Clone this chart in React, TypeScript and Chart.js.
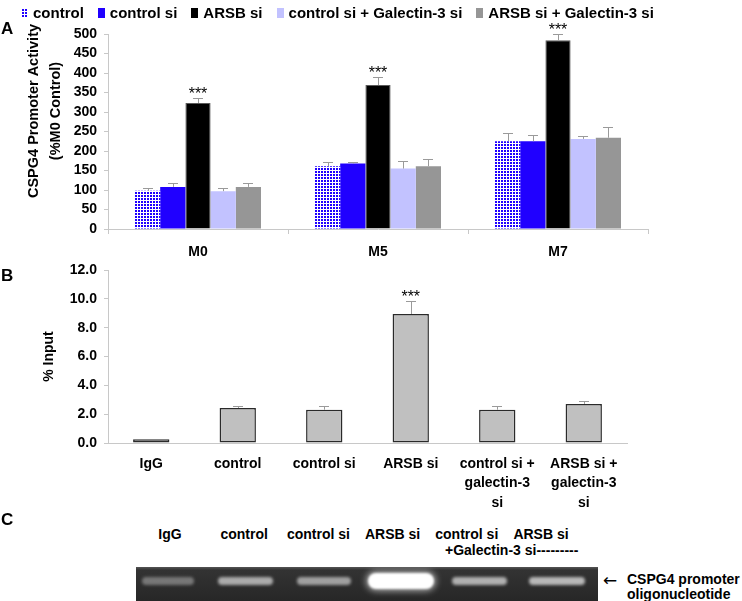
import React, { useEffect, useRef } from "react";
import { Chart, registerables } from "chart.js";

Chart.register(...registerables);

const FONT = '"Liberation Sans", Arial, Helvetica, sans-serif';

// ---------- Panel A data ----------
const timepoints = ["M0", "M5", "M7"];
const seriesNames = [
  "control",
  "control si",
  "ARSB si",
  "control si + Galectin-3 si",
  "ARSB si + Galectin-3 si",
];
const controlVals = [98, 161, 225];
const controlErr = [6, 10, 20];
const controlSiVals = [108, 168, 225];
const controlSiErr = [9, 5, 16];
const arsbSiVals = [323, 369, 484];
const arsbSiErr = [13, 20, 16];
const ctrlGalVals = [97, 155, 231];
const ctrlGalErr = [7, 19, 7];
const arsbGalVals = [108, 161, 234];
const arsbGalErr = [9, 18, 27];
const arsbSiSig = ["***", "***", "***"];
const yTitleA = ["CSPG4 Promoter Activity", "(%M0 Control)"];

// ---------- Panel B data ----------
const chipLabels = [
  ["IgG"],
  ["control"],
  ["control si"],
  ["ARSB si"],
  ["control si +", "galectin-3", "si"],
  ["ARSB si +", "galectin-3", "si"],
];
const chipVals = [0.26, 2.43, 2.31, 8.95, 2.31, 2.71];
const chipErr = [0, 0.17, 0.24, 0.88, 0.24, 0.18];
const chipSig = ["", "", "", "***", "", ""];
const yTitleB = "% Input";

// ---------- Panel C data ----------
const gelLabels = ["IgG", "control", "control si", "ARSB si", "control si", "ARSB si"];
const gelSubLabel = "+Galectin-3 si---------";
const gelIntensity = [0.38, 0.68, 0.62, 1.0, 0.7, 0.74];
const gelCaption = ["CSPG4 promoter", "oligonucleotide"];

// ---------- styles ----------
const BLUE = "#2000ff";
const seriesColors = [BLUE, BLUE, "#000000", "#c2c2ff", "#969696"];
const AXIS = "#c8c8c8";

function makePattern(color: string) {
  const c = document.createElement("canvas");
  c.width = 3;
  c.height = 3;
  const g = c.getContext("2d")!;
  g.fillStyle = "#ffffff";
  g.fillRect(0, 0, 3, 3);
  g.fillStyle = color;
  g.fillRect(0, 0, 2, 2);
  return g.createPattern(c, "repeat")!;
}

function errorPlugin(errs: number[][], sigs: string[][], capHalf: number) {
  return {
    id: "errbars",
    afterDatasetsDraw(chart: any) {
      const ctx = chart.ctx;
      const y = chart.scales.y;
      ctx.save();
      chart.data.datasets.forEach((ds: any, di: number) => {
        const meta = chart.getDatasetMeta(di);
        meta.data.forEach((bar: any, i: number) => {
          const v = ds.data[i] as number;
          const e = errs[di] ? errs[di][i] : 0;
          const yTop = y.getPixelForValue(v);
          const yCap = y.getPixelForValue(v + e);
          if (e > 0) {
            ctx.strokeStyle = "#9a9a9a";
            ctx.lineWidth = 1;
            ctx.beginPath();
            ctx.moveTo(Math.round(bar.x) + 0.5, yTop);
            ctx.lineTo(Math.round(bar.x) + 0.5, Math.round(yCap) + 0.5);
            ctx.moveTo(Math.round(bar.x - capHalf), Math.round(yCap) + 0.5);
            ctx.lineTo(Math.round(bar.x + capHalf), Math.round(yCap) + 0.5);
            ctx.stroke();
          }
          const s = sigs[di] ? sigs[di][i] : "";
          if (s) {
            ctx.fillStyle = "#000";
            ctx.font = `normal 16px ${FONT}`;
            ctx.textAlign = "center";
            ctx.textBaseline = "alphabetic";
            ctx.fillText(s, bar.x, yCap + 1);
          }
        });
      });
      ctx.restore();
    },
  };
}

const yTitlePluginA = {
  id: "ytitleA",
  afterDraw(chart: any) {
    const ctx = chart.ctx;
    ctx.save();
    ctx.font = `bold 14.5px ${FONT}`;
    ctx.fillStyle = "#000";
    ctx.textAlign = "center";
    ctx.textBaseline = "middle";
    yTitleA.forEach((line, k) => {
      ctx.save();
      ctx.translate(34 + k * 22, 111);
      ctx.rotate(-Math.PI / 2);
      ctx.fillText(line, 0, 0);
      ctx.restore();
    });
    ctx.restore();
  },
};

export default function App() {
  const refA = useRef<HTMLCanvasElement>(null);
  const refB = useRef<HTMLCanvasElement>(null);

  useEffect(() => {
    const pattern = makePattern(BLUE);
    const tickFont = { family: FONT, size: 14, weight: "bold" as const, lineHeight: 1 };

    const valsA = [controlVals, controlSiVals, arsbSiVals, ctrlGalVals, arsbGalVals];
    const errsA = [controlErr, controlSiErr, arsbSiErr, ctrlGalErr, arsbGalErr];
    const sigsA = [[], [], arsbSiSig, [], []];

    const chartA = new Chart(refA.current!, {
      type: "bar",
      data: {
        labels: timepoints,
        datasets: seriesNames.map((name, i) => ({
          label: name,
          data: valsA[i],
          backgroundColor: i === 0 ? (pattern as any) : seriesColors[i],
          borderColor: i === 2 ? "#5a5a5a" : seriesColors[i],
          borderWidth: i === 2 ? 1 : 0,
          borderSkipped: "bottom" as const,
          categoryPercentage: 0.7,
          barPercentage: 1,
        })),
      },
      options: {
        responsive: false,
        animation: false,
        devicePixelRatio: 1,
        layout: { padding: { top: 34, left: 1, right: 94, bottom: 0 } },
        plugins: { legend: { display: false }, tooltip: { enabled: false } },
        scales: {
          x: {
            grid: { display: true, drawOnChartArea: false, offset: true, tickLength: 5, color: AXIS },
            border: { display: true, color: AXIS },
            ticks: { font: { family: FONT, size: 14, weight: "bold" }, color: "#000", padding: 10 },
            afterFit: (s: any) => {
              s.height = 36;
            },
          },
          y: {
            min: 0,
            max: 500,
            grid: { display: true, drawOnChartArea: false, tickLength: 4, color: AXIS },
            border: { display: true, color: AXIS },
            ticks: {
              stepSize: 50,
              autoSkip: false,
              maxTicksLimit: 20,
              font: tickFont,
              color: "#000",
              padding: 7,
            },
            afterFit: (s: any) => {
              s.width = 107;
            },
          },
        },
      },
      plugins: [errorPlugin(errsA, sigsA, 5), yTitlePluginA],
    });

    const chartB = new Chart(refB.current!, {
      type: "bar",
      data: {
        labels: chipLabels,
        datasets: [
          {
            label: yTitleB,
            data: chipVals,
            backgroundColor: "#c0c0c0",
            borderColor: "#2a2a2a",
            borderWidth: 1.5,
            borderSkipped: false,
            categoryPercentage: 1,
            barPercentage: 0.42,
          },
        ],
      },
      options: {
        responsive: false,
        animation: false,
        devicePixelRatio: 1,
        layout: { padding: { top: 15, left: 1, right: 115, bottom: 0 } },
        plugins: { legend: { display: false }, tooltip: { enabled: false } },
        scales: {
          x: {
            grid: { display: false, drawTicks: false },
            border: { display: true, color: AXIS },
            ticks: {
              font: { family: FONT, size: 14, weight: "bold", lineHeight: 1.4 },
              color: "#000",
              padding: 11,
              maxRotation: 0,
              autoSkip: false,
            },
            afterFit: (s: any) => {
              s.height = 77;
            },
          },
          y: {
            min: 0,
            max: 12,
            grid: { display: true, drawOnChartArea: false, tickLength: 4, color: AXIS },
            border: { display: true, color: AXIS },
            ticks: {
              stepSize: 2,
              autoSkip: false,
              font: tickFont,
              color: "#000",
              padding: 7,
              callback: (v: any) => Number(v).toFixed(1),
            },
            title: {
              display: true,
              text: yTitleB,
              color: "#000",
              font: { family: FONT, size: 14, weight: "bold" },
              padding: { top: 40, bottom: 0 },
            },
            afterFit: (s: any) => {
              s.width = 107;
            },
          },
        },
      },
      plugins: [errorPlugin([chipErr], [chipSig], 5)],
    });

    return () => {
      chartA.destroy();
      chartB.destroy();
    };
  }, []);

  const swatchStyle = (i: number): React.CSSProperties =>
    i === 0
      ? {
          backgroundColor: BLUE,
          backgroundImage:
            "linear-gradient(to right, #fff 1px, transparent 1px), linear-gradient(to bottom, #fff 1px, transparent 1px)",
          backgroundSize: "3px 3px",
        }
      : { backgroundColor: seriesColors[i] };

  const letter: React.CSSProperties = {
    position: "absolute",
    left: 1,
    fontSize: 17,
    fontWeight: "bold",
    lineHeight: "20px",
    height: 20,
  };

  const gelLeft = 136;
  const gelTop = 567;

  return (
    <div
      style={{
        position: "fixed",
        left: 0,
        top: 0,
        width: 742,
        height: 601,
        background: "#fff",
        overflow: "hidden",
        fontFamily: FONT,
        color: "#000",
      }}
    >
      <canvas ref={refA} width={742} height={265} style={{ position: "absolute", left: 0, top: 0 }} />
      <canvas ref={refB} width={742} height={265} style={{ position: "absolute", left: 0, top: 255 }} />

      {/* legend */}
      <div
        style={{
          position: "absolute",
          left: 21,
          top: 4,
          height: 17,
          display: "flex",
          alignItems: "center",
          fontSize: 15,
          fontWeight: "bold",
          whiteSpace: "nowrap",
        }}
      >
        {seriesNames.map((n, i) => (
          <div key={i} style={{ display: "flex", alignItems: "center", marginRight: 14 }}>
            <span style={{ display: "inline-block", width: 7, height: 10, marginRight: 5, ...swatchStyle(i) }} />
            <span>{n}</span>
          </div>
        ))}
      </div>

      {/* panel letters */}
      <div style={{ ...letter, top: 19 }}>A</div>
      <div style={{ ...letter, top: 266 }}>B</div>
      <div style={{ ...letter, top: 510 }}>C</div>

      {/* panel C labels */}
      {gelLabels.map((t, i) => (
        <div
          key={i}
          style={{
            position: "absolute",
            left: 170 + 74.2 * i - 60,
            width: 120,
            top: 525,
            textAlign: "center",
            fontSize: 14,
            fontWeight: "bold",
            lineHeight: "18px",
            whiteSpace: "nowrap",
          }}
        >
          {t}
        </div>
      ))}
      <div
        style={{
          position: "absolute",
          left: 445,
          top: 541,
          fontSize: 14,
          fontWeight: "bold",
          lineHeight: "18px",
          whiteSpace: "nowrap",
        }}
      >
        {gelSubLabel}
      </div>

      {/* gel */}
      <div
        style={{
          position: "absolute",
          left: gelLeft,
          top: gelTop,
          width: 462,
          height: 36,
          background: "linear-gradient(to bottom, #555 0px, #333 3px, #262626 100%)",
          overflow: "hidden",
        }}
      >
        {gelIntensity.map((v, i) => {
          const cx = 168 + 77.8 * i - gelLeft;
          const bright = v >= 1;
          const w = bright ? 66 : 48 + 10 * v;
          const h = bright ? 16 : 8;
          const c = Math.round(120 + 135 * v);
          return (
            <div
              key={i}
              style={{
                position: "absolute",
                left: cx - w / 2,
                top: 13.5 - h / 2,
                width: w,
                height: h,
                borderRadius: h / 2,
                background: bright ? "#ffffff" : `rgba(${c},${c},${c},${0.35 + 0.6 * v})`,
                filter: bright ? "blur(1px)" : "blur(1.6px)",
                boxShadow: bright ? "0 0 6px 2px rgba(255,255,255,0.6)" : "none",
              }}
            />
          );
        })}
      </div>

      {/* arrow + caption */}
      <div
        style={{
          position: "absolute",
          left: 603,
          top: 570,
          fontSize: 17,
          lineHeight: "20px",
          fontFamily: '"DejaVu Sans", sans-serif',
        }}
      >
        ←
      </div>
      <div
        style={{
          position: "absolute",
          left: 627,
          top: 572,
          fontSize: 14,
          fontWeight: "bold",
          lineHeight: "15px",
          whiteSpace: "nowrap",
        }}
      >
        {gelCaption.map((t, i) => (
          <div key={i}>{t}</div>
        ))}
      </div>
    </div>
  );
}
